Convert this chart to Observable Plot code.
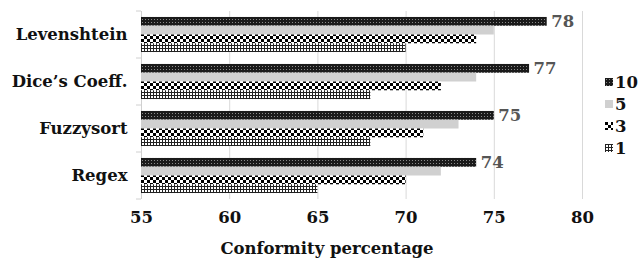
<!DOCTYPE html>
<html><head><meta charset="utf-8">
<script src="https://cdn.jsdelivr.net/npm/d3@7"></script>
<script src="https://cdn.jsdelivr.net/npm/@observablehq/plot@0.6"></script>
<style>
body{margin:0;background:#fff;}
#wrap{position:relative;width:639px;height:258px;font-family:"DejaVu Serif",serif;font-weight:bold;}
#legend{position:absolute;left:605px;top:71px;font-size:16.5px;color:#111;}
#legend div{display:flex;align-items:center;height:22px;}
#legend svg{margin-right:2px;}
</style></head>
<body>
<svg width="0" height="0" style="position:absolute">
<defs>
<pattern id="p10" width="3" height="3" patternUnits="userSpaceOnUse">
<rect width="3" height="3" fill="#1a1a1a"/><rect x="1" y="1" width="1" height="1" fill="#8a8a8a"/>
</pattern>
<pattern id="p5" width="4" height="4" patternUnits="userSpaceOnUse">
<rect width="4" height="4" fill="#d0d0d0"/>
</pattern>
<pattern id="p3" width="6" height="6" patternUnits="userSpaceOnUse">
<rect width="6" height="6" fill="#fff"/><rect width="3" height="3" fill="#000"/><rect x="3" y="3" width="3" height="3" fill="#000"/>
</pattern>
<pattern id="p1" width="3" height="3" patternUnits="userSpaceOnUse">
<rect width="3" height="3" fill="#fff"/><rect width="1" height="3" fill="#222"/><rect width="3" height="1" fill="#222"/>
</pattern>
</defs></svg>
<div id="wrap"><div id="legend"></div></div>
<script>
const methods = ["Levenshtein", "Dice\u2019s Coeff.", "Fuzzysort", "Regex"];
const seriesNames = ["10", "5", "3", "1"];
const s10 = [78, 77, 75, 74];
const s5 = [75, 74, 73, 72];
const s3 = [74, 72, 71, 70];
const s1 = [70, 68, 68, 65];
const xTicks = [55, 60, 65, 70, 75, 80];
const fills = {"10": "url(#p10)", "5": "url(#p5)", "3": "url(#p3)", "1": "url(#p1)"};

const seriesVals = {"10": s10, "5": s5, "3": s3, "1": s1};
const rows = [];
methods.forEach((m, i) => seriesNames.forEach(s => rows.push({method: m, series: s, value: seriesVals[s][i]})));

const plot = Plot.plot({
  width: 639, height: 258,
  marginTop: 11, marginBottom: 59, marginLeft: 141, marginRight: 57,
  style: {fontFamily: "DejaVu Serif, serif", fontWeight: "bold", fontSize: "16.5px", color: "#111", background: "#fff"},
  x: {domain: [55, 80], ticks: xTicks, tickSize: 0, tickPadding: 12, label: null, grid: false},
  y: {domain: seriesNames, paddingInner: 0, paddingOuter: 0.68, round: false, axis: null},
  fy: {domain: methods, padding: 0, round: false, label: null, tickSize: 0, tickPadding: 14},
  facet: {data: rows, y: "method"},
  marks: [
    Plot.ruleX(xTicks.slice(1), {stroke: "#d9d9d9", strokeWidth: 1}),
    Plot.ruleX([55], {stroke: "#d0d0d0", strokeWidth: 1}),
    Plot.barX(rows, {x1: 55, x2: "value", y: "series", fill: d => fills[d.series]}),
    Plot.text(rows, {filter: d => d.series === "10", x: "value", y: "series", text: d => String(d.value), textAnchor: "start", dx: 4, fill: "#555", fontSize: 16.5, fontWeight: "bold"})
  ]
});
document.getElementById("wrap").prepend(plot);

// band boundary ticks on left axis, from fy scale
const fy = plot.scale("fy");
const svg = d3.select(plot);
const bounds = methods.map(m => fy.apply(m)).concat([fy.apply(methods[methods.length-1]) + fy.bandwidth]);
const xs = plot.scale("x");
svg.append("g").selectAll("line").data(bounds).join("line")
  .attr("x1", xs.apply(55) - 5).attr("x2", xs.apply(55))
  .attr("y1", d => d).attr("y2", d => d)
  .attr("stroke", "#d0d0d0");

// x axis title
svg.append("text")
  .attr("x", 327).attr("y", 254)
  .attr("text-anchor", "middle").attr("font-size", 16.5).attr("font-weight", "bold").attr("fill", "#111")
  .text("Conformity percentage");

const lg = document.getElementById("legend");
seriesNames.forEach(s => {
  const d = document.createElement("div");
  d.innerHTML = `<svg width="8" height="8"><rect width="8" height="8" fill="${fills[s]}"/></svg><span>${s}</span>`;
  lg.appendChild(d);
});
</script>
</body></html>
